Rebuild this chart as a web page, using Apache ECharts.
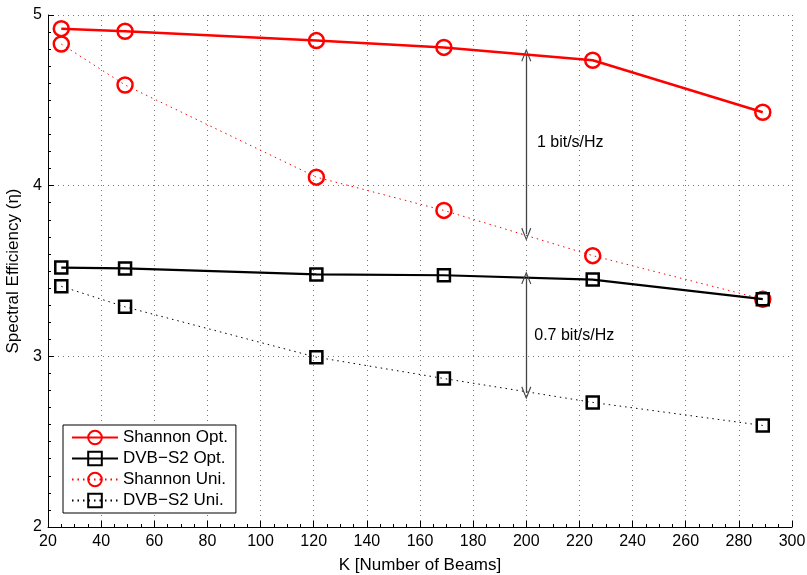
<!DOCTYPE html>
<html><head><meta charset="utf-8">
<script src="https://cdn.jsdelivr.net/npm/echarts@6/dist/echarts.min.js"></script>
<style>html,body{margin:0;padding:0;background:#fff}#c{width:807px;height:575px}</style>
</head><body><div id="c"></div>
<script>
const beams = [25, 49, 121, 169, 225, 289];
const shannonOpt = [4.92, 4.905, 4.85, 4.81, 4.735, 4.43];
const dvbOpt = [3.52, 3.515, 3.48, 3.475, 3.45, 3.335];
const shannonUni = [4.83, 4.59, 4.05, 3.855, 3.59, 3.335];
const dvbUni = [3.41, 3.29, 2.995, 2.87, 2.73, 2.595];
const arrow1 = [[200, 4.765], [200, 3.715]];
const arrow2 = [[200, 3.46], [200, 2.785]];
const annotations = [
  {text: '1 bit/s/Hz', at: [204, 4.25]},
  {text: '0.7 bit/s/Hz', at: [203, 3.12]}
];

const pair = a => beams.map((x, i) => [x, a[i]]);
const font = 'Liberation Sans, Arial, sans-serif';
const chevron = 'path://M0,0 L5,11 L4,11.6 L0,2.6 L-4,11.6 L-5,11 Z';
const chart = echarts.init(document.getElementById('c'));
const arrowLine = (c) => ({
  silent: true, symbol: [chevron, chevron], symbolSize: [10, 13],
  itemStyle: {color: '#000'},
  lineStyle: {color: '#444', width: 1.3, type: 'solid'}, label: {show: false},
  data: [[{coord: c[0]}, {coord: c[1]}]]
});
chart.setOption({
  animation: false,
  grid: {left: 48, right: 15, top: 15, bottom: 48, containLabel: false, outerBoundsMode: 'none'},
  xAxis: {
    type: 'value', min: 20, max: 300, interval: 20,
    name: 'K [Number of Beams]', nameLocation: 'middle', nameGap: 30,
    nameTextStyle: {color: '#000', fontSize: 17, fontFamily: font},
    axisLine: {show: true, onZero: false, lineStyle: {color: '#000', width: 1}},
    axisTick: {show: true, inside: true, length: 6, lineStyle: {color: '#000'}},
    minorTick: {show: true, splitNumber: 4, length: 3, lineStyle: {color: '#000'}},
    axisLabel: {color: '#000', fontSize: 16, fontFamily: font, margin: 7},
    splitLine: {show: true, lineStyle: {color: '#777', type: [1, 4], width: 1}}
  },
  yAxis: {
    type: 'value', min: 2, max: 5, interval: 1,
    name: 'Spectral Efficiency (\u03b7)', nameLocation: 'middle', nameGap: 24,
    nameTextStyle: {color: '#000', fontSize: 17, fontFamily: font},
    axisLine: {show: true, onZero: false, lineStyle: {color: '#000', width: 1}},
    axisTick: {show: true, inside: true, length: 6, lineStyle: {color: '#000'}},
    minorTick: {show: true, splitNumber: 10, length: 3, lineStyle: {color: '#000'}},
    axisLabel: {color: '#000', fontSize: 16, fontFamily: font, margin: 6},
    splitLine: {show: true, lineStyle: {color: '#777', type: [1, 4], width: 1}}
  },
  legend: {
    left: 63, top: 425, orient: 'vertical', itemGap: 4, itemWidth: 46, itemHeight: 17,
    padding: [4, 8, 4, 8], backgroundColor: '#fff', borderColor: '#000', borderWidth: 1,
    textStyle: {color: '#000', fontSize: 17, fontFamily: font},
    data: ['Shannon Opt.', 'DVB\u2212S2 Opt.', 'Shannon Uni.', 'DVB\u2212S2 Uni.']
  },
  series: [
    {name: 'Shannon Opt.', type: 'line', data: pair(shannonOpt), symbol: 'circle', symbolSize: 15,
     itemStyle: {color: 'rgba(255,255,255,0)', borderColor: '#f00', borderWidth: 2.5},
     lineStyle: {color: '#f00', width: 2.5}, z: 5,
     markLine: arrowLine(arrow1)},
    {name: 'DVB\u2212S2 Opt.', type: 'line', data: pair(dvbOpt), symbol: 'rect', symbolSize: 12,
     itemStyle: {color: 'rgba(255,255,255,0)', borderColor: '#000', borderWidth: 2.5},
     lineStyle: {color: '#000', width: 2.2}, z: 4,
     markLine: arrowLine(arrow2)},
    {name: 'Shannon Uni.', type: 'line', data: pair(shannonUni), symbol: 'circle', symbolSize: 15,
     itemStyle: {color: 'rgba(255,255,255,0)', borderColor: '#f00', borderWidth: 2.5},
     lineStyle: {color: '#f00', width: 1, type: [1.5, 4]}, z: 3},
    {name: 'DVB\u2212S2 Uni.', type: 'line', data: pair(dvbUni), symbol: 'rect', symbolSize: 12,
     itemStyle: {color: 'rgba(255,255,255,0)', borderColor: '#000', borderWidth: 2.5},
     lineStyle: {color: '#000', width: 1, type: [1.5, 4]}, z: 3},
    {name: 'notes', type: 'scatter', symbolSize: 0, silent: true,
     itemStyle: {opacity: 1},
     data: annotations.map(a => ({value: a.at, label: {formatter: a.text}})),
     label: {show: true, position: 'right', distance: 0, color: '#000', opacity: 1, fontSize: 16, fontFamily: font}}
  ]
});
</script></body></html>
